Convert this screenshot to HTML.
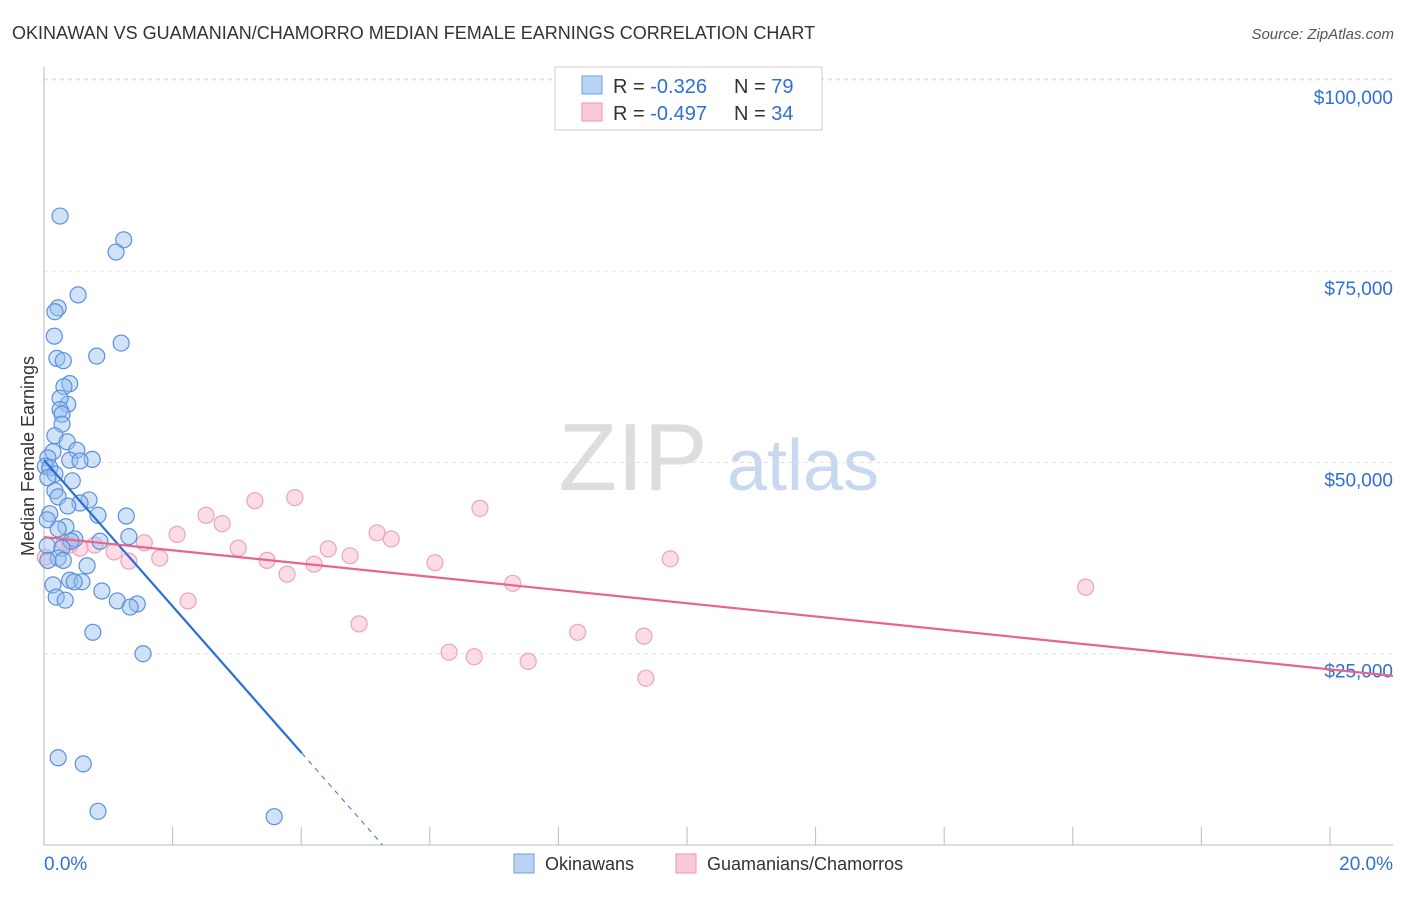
<!DOCTYPE html>
<html><head><meta charset="utf-8"><style>
body{margin:0;background:#fff;font-family:"Liberation Sans",sans-serif;}
svg text{font-family:"Liberation Sans",sans-serif;}
</style></head><body>
<svg id="chart" width="1406" height="892">
<text x="12" y="39" font-size="18" fill="#333">OKINAWAN VS GUAMANIAN/CHAMORRO MEDIAN FEMALE EARNINGS CORRELATION CHART</text>
<text x="1394" y="39" font-size="15" fill="#555" font-style="italic" text-anchor="end">Source: ZipAtlas.com</text>
<g>
<text x="633" y="490" font-size="96" font-family="Liberation Serif,serif" fill="#ddd" text-anchor="middle">ZIP</text>
<text x="803" y="490" font-size="72" fill="#c8d8ee" text-anchor="middle">atlas</text>
</g>
<g id="grid"></g>
<g id="axes"></g>
<g id="marks"></g>
<text transform="translate(34,456) rotate(-90)" font-size="18" fill="#333" text-anchor="middle">Median Female Earnings</text>
<g>
<rect x="555" y="67" width="267" height="63" fill="#fff" stroke="#ccc"/>
<rect x="582" y="76" width="20" height="18" fill="#b9d3f5" stroke="#6f9fe0"/>
<rect x="582" y="103" width="20" height="18" fill="#fbc9d8" stroke="#ec97b2"/>
<text x="613" y="93" font-size="20" fill="#333">R = <tspan fill="#2f6fd6">-0.326</tspan></text>
<text x="734" y="93" font-size="20" fill="#333">N = <tspan fill="#2f6fd6">79</tspan></text>
<text x="613" y="120" font-size="20" fill="#333">R = <tspan fill="#2f6fd6">-0.497</tspan></text>
<text x="734" y="120" font-size="20" fill="#333">N = <tspan fill="#2f6fd6">34</tspan></text>
</g>
<g>
<rect x="514" y="854" width="20" height="19" fill="#b9d3f5" stroke="#6f9fe0"/>
<text x="545" y="870" font-size="18" fill="#333">Okinawans</text>
<rect x="676" y="854" width="20" height="19" fill="#fbc9d8" stroke="#ec97b2"/>
<text x="707" y="870" font-size="18" fill="#333">Guamanians/Chamorros</text>
</g>
</svg>
<script>
const blueX=[0.25,1.24,1.12,0.53,0.22,0.17,0.16,1.20,0.82,0.20,0.30,0.40,0.31,0.37,0.25,0.25,0.28,0.28,0.17,0.36,0.51,0.14,0.06,0.40,0.75,0.56,0.02,0.09,0.17,0.06,0.44,0.17,0.22,0.70,0.56,0.37,0.09,0.84,1.28,0.05,0.34,0.22,0.48,0.42,0.05,0.28,0.87,1.32,0.22,0.30,0.06,0.67,0.40,0.59,0.14,0.47,0.90,0.19,0.33,1.14,1.45,1.34,0.76,1.54,0.22,0.61,0.84,3.58];
const blueY=[82200,79100,77500,71900,70200,69700,66500,65600,63900,63600,63300,60300,59900,57600,58400,56900,56300,55000,53500,52700,51600,51400,50600,50300,50400,50200,49500,49300,48500,48000,47600,46300,45500,45100,44700,44300,43300,43100,43000,42500,41600,41300,40000,39700,39100,38800,39700,40300,37500,37200,37200,36500,34600,34400,34000,34400,33200,32400,32000,31900,31500,31100,27800,25000,11400,10600,4400,3700];
const pinkX=[0.02,0.40,0.31,0.56,0.79,1.09,1.32,1.56,1.80,2.07,2.24,2.52,2.77,3.02,3.28,3.47,3.78,3.90,4.20,4.42,4.76,4.90,5.18,5.40,6.08,6.30,6.69,6.78,7.29,7.53,8.30,9.33,9.36,9.74,16.2];
const pinkY=[37600,39200,39500,38800,39200,38300,37100,39500,37500,40600,31900,43100,42000,38800,45000,37200,35400,45400,36700,38700,37800,28900,40800,40000,36900,25200,24600,44000,34200,24000,27800,27300,21800,37400,33700];
const blueTrend=[50300,-9550];
const pinkTrend=[40250,-865];
const yTicks=[25000,50000,75000,100000];
const yTickLabels=["$25,000","$50,000","$75,000","$100,000"];
const xTicks=[0,2,4,6,8,10,12,14,16,18,20];

const NS="http://www.w3.org/2000/svg";
const X=v=>44+v*64.3;
const Y=v=>845-v/130.7;
function mk(p,t,a){const e=document.createElementNS(NS,t);for(const k in a)e.setAttribute(k,a[k]);p.appendChild(e);return e;}
const gridG=document.getElementById('grid'),axesG=document.getElementById('axes'),marksG=document.getElementById('marks');
yTicks.forEach((t,i)=>{
 const l=mk(gridG,'line',{x1:44,x2:1393,y1:Y(t),y2:Y(t),stroke:'#e2e2e2','stroke-dasharray':'4,4'});
 
 
 const tx=mk(axesG,'text',{x:1393,y:Y(t)+24,'font-size':19,fill:'#2f6fd6','text-anchor':'end'});
 tx.textContent=yTickLabels[i];
 
 
});
const topLine=mk(gridG,'line',{x1:44,x2:1393,y1:79,y2:79,stroke:'#e2e2e2','stroke-dasharray':'4,4'});


const ya=mk(axesG,'line',{x1:44,x2:44,y1:67,y2:845,stroke:'#bbb'});


const xa=mk(axesG,'line',{x1:44,x2:1393,y1:845,y2:845,stroke:'#bbb'});


xTicks.forEach(t=>{
 const l=mk(axesG,'line',{x1:X(t),x2:X(t),y1:827,y2:845,stroke:'#bbb'});
 
 
});
const xl0=mk(axesG,'text',{x:44,y:870,'font-size':19,fill:'#2f6fd6'});xl0.textContent='0.0%';


const xl1=mk(axesG,'text',{x:1393,y:870,'font-size':19,fill:'#2f6fd6','text-anchor':'end'});xl1.textContent='20.0%';



pinkX.forEach((v,i)=>{
 const c=mk(marksG,'circle',{cx:X(v),cy:Y(pinkY[i]),r:8,fill:'rgba(248,180,200,0.45)',stroke:'#eca3bb','stroke-width':1.2});
 
 
});
blueX.forEach((v,i)=>{
 const c=mk(marksG,'circle',{cx:X(v),cy:Y(blueY[i]),r:8,fill:'rgba(150,190,240,0.45)',stroke:'#5a90dc','stroke-width':1.2});
 
 
});
const bx1=4.01,bx2=-blueTrend[0]/blueTrend[1];
const bl=mk(marksG,'line',{x1:X(0),y1:Y(blueTrend[0]),x2:X(bx1),y2:Y(blueTrend[0]+blueTrend[1]*bx1),stroke:'#2a6fd8','stroke-width':2.2});


const bd=mk(marksG,'line',{x1:X(bx1),y1:Y(blueTrend[0]+blueTrend[1]*bx1),x2:X(bx2),y2:Y(0),stroke:'#2a6fd8','stroke-width':1,'stroke-dasharray':'5,5'});


const pe=20.98;
const pl=mk(marksG,'line',{x1:X(0),y1:Y(pinkTrend[0]),x2:X(pe),y2:Y(pinkTrend[0]+pinkTrend[1]*pe),stroke:'#e8648f','stroke-width':2.2});


</script>
</body></html>
